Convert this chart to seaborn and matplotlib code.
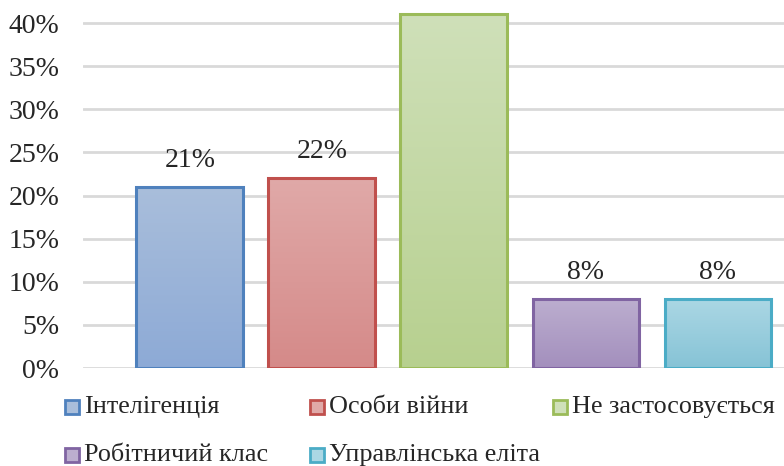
import numpy as np
import pandas as pd
import matplotlib
matplotlib.use("Agg")
import matplotlib.pyplot as plt
import seaborn as sns
from matplotlib.patches import Rectangle
from matplotlib.colors import LinearSegmentedColormap

# дані
categories = ["Інтелігенція", "Особи війни", "Не застосовується",
              "Робітничий клас", "Управлінська еліта"]
values = [21, 22, 41, 8, 8]
tick_values = [0, 5, 10, 15, 20, 25, 30, 35, 40]
tick_labels = ["0%", "5%", "10%", "15%", "20%", "25%", "30%", "35%", "40%"]

# кольори: верх градієнта, низ градієнта, контур
grad_top = ["#a9bedb", "#e0a9a8", "#cfe0b9", "#bcaecf", "#abd7e4"]
grad_bottom = ["#8daad6", "#d58a89", "#b7d08f", "#a38fbd", "#86c3d6"]
edges = ["#4f81bd", "#c0504d", "#9bbb59", "#8064a2", "#4bacc6"]

sns.set_theme(style="white")
plt.rcParams['font.family'] = ['Liberation Serif', 'DejaVu Serif']
FS = 20
FS_LEG = 18.8

W, H = 784, 466
YMAX = 42.67
fig = plt.figure(figsize=(W / 100, H / 100), dpi=100)
ax = fig.add_axes([83 / W, 98 / H, 701 / W, 368 / H])

df = pd.DataFrame({"cat": categories, "val": values})
sns.barplot(data=df, x="cat", y="val", hue="cat", palette=grad_bottom,
            width=0.81, legend=False, ax=ax, saturation=1)

# градієнтна заливка всередині кожного стовпця
for i, patch in enumerate(ax.patches):
    x0, y0 = patch.get_x(), patch.get_y()
    w, h = patch.get_width(), patch.get_height()
    cmap = LinearSegmentedColormap.from_list("g", [grad_bottom[i], grad_top[i]])
    grad = np.linspace(0, 1, 256).reshape(-1, 1)
    im = ax.imshow(grad, cmap=cmap, origin="lower", aspect="auto",
                   extent=[x0, x0 + w, y0, y0 + h], zorder=2)
    im.set_clip_path(patch)
    patch.set_edgecolor(edges[i])
    patch.set_linewidth(2.2)
    patch.set_zorder(3)
    patch.set_facecolor("none")
    # підпис над стовпцем (якщо вміщується в області графіка)
    if values[i] + 5 < YMAX:
        ax.text(i, values[i] + 3.1, f"{values[i]}%", ha="center", va="center",
                fontsize=FS, color="#262626")

ax.set_xlim(-0.81, 4.5)
ax.set_ylim(0, YMAX)

ax.set_yticks(tick_values)
ax.set_yticklabels(tick_labels, fontsize=FS, color="#262626")
ax.tick_params(axis="y", length=0, pad=17)
ax.set_xticks([])
ax.set_xlabel("")
ax.set_ylabel("")
ax.grid(axis="y", color="#d9d9d9", linewidth=2)
ax.set_axisbelow(True)
for s in ax.spines.values():
    s.set_visible(False)

# легенда (3 колонки, 2 рядки)
col_x = [65, 310, 553]
row_y = [407, 455]
for i, name in enumerate(categories):
    r, c = divmod(i, 3)
    x, y = col_x[c], row_y[r]
    fig.patches.append(Rectangle((x / W, 1 - (y + 7) / H), 14 / W, 14 / H,
                                 transform=fig.transFigure,
                                 facecolor=grad_top[i], edgecolor=edges[i],
                                 linewidth=2))
    fig.text((x + 19) / W, 1 - y / H, name, fontsize=FS_LEG, color="#262626",
             ha="left", va="center")

fig.savefig("out.png", dpi=100)
